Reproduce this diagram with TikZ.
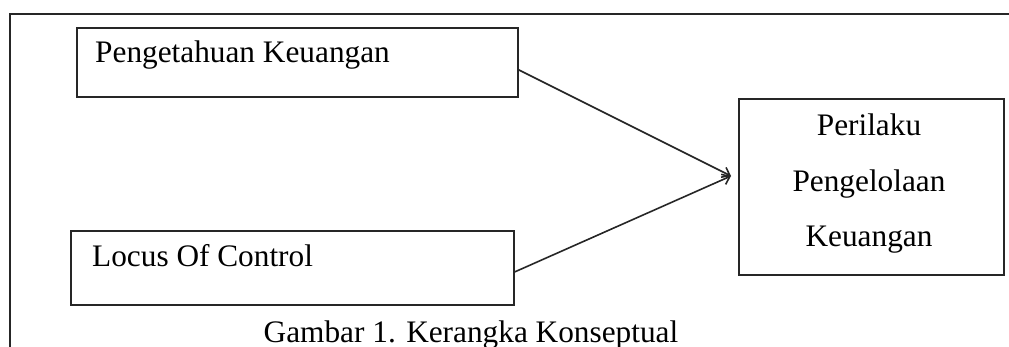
\documentclass[tikz,border=0pt]{standalone}
\usepackage{fontspec}
\setmainfont{Liberation Serif}
\usetikzlibrary{arrows.meta}
\tikzset{
  kotak/.style={draw=black!85, line width=1.8pt, inner sep=0pt},
  teks/.style={inner sep=0pt, font=\fontsize{31.3}{36}\selectfont, text=black},
}
\begin{document}
\begin{tikzpicture}[x=1pt, y=-1pt, line join=miter, >={Straight Barb[length=7pt,width=11pt]}]
				\useasboundingbox (0,0) rectangle (1009,347);
				% bingkai luar
				\draw[black!85, line width=1.8pt] (10,347) -- (10,14) -- (1009,14);
				% kotak variabel
				\node[kotak, anchor=north west, minimum width=441pt, minimum height=69pt] (PK) at (76,27) {};
				\node[kotak, anchor=north west, minimum width=443pt, minimum height=74pt] (LC) at (70,230) {};
				\node[kotak, anchor=north west, minimum width=265pt, minimum height=176pt] (PPK) at (738,98) {};
				\coordinate (T) at (731,176);
				\node[teks, anchor=base west] (tPK) at (95,63) {Pengetahuan Keuangan};
				\node[teks, anchor=base west] (tLC) at (92,267) {Locus Of Control};
				\foreach \n/\y/\l in {a/136/Perilaku, b/192/Pengelolaan, c/247/Keuangan} {
					\node[teks, anchor=base] (tPPK\n) at (869,\y) {\l};
				}
				% panah
				\draw[->, black!85, line width=1.6pt] ([yshift=-7.5pt]PK.east) -- (T);
				\draw[->, black!85, line width=1.6pt] ([yshift=-4pt]LC.east) -- (T);
				\node[teks, anchor=base] (judul) at (471,342) {Gambar 1. Kerangka Konseptual};
			\end{tikzpicture}
\end{document}
